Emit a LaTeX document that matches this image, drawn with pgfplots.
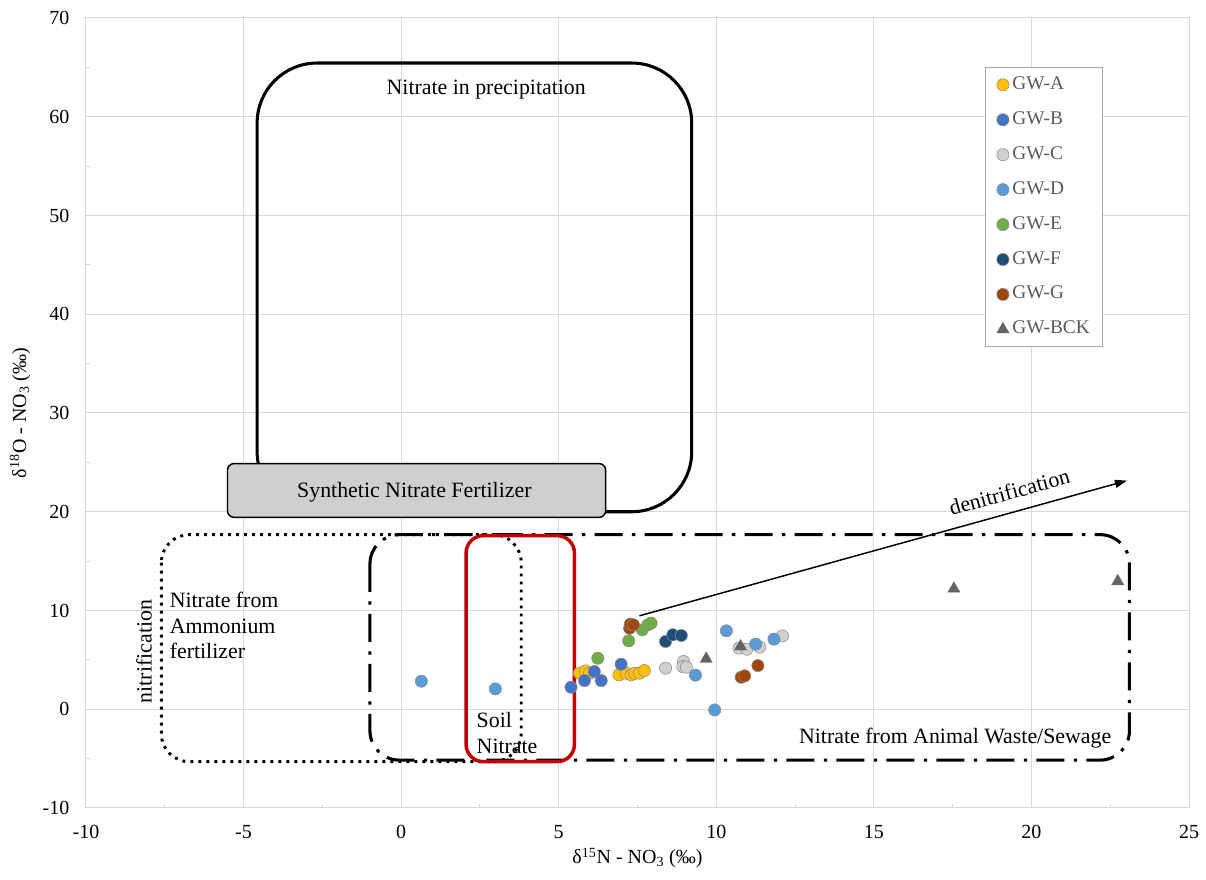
\documentclass[border=0pt]{standalone}
\usepackage{fontspec}
\setmainfont{Liberation Serif}
\usepackage{pgfplots}
\pgfplotsset{compat=1.18}
\usetikzlibrary{calc,arrows.meta}
\definecolor{cA}{HTML}{FFC000}
\definecolor{cB}{HTML}{4472C4}
\definecolor{cC}{HTML}{D0D0D0}
\definecolor{cD}{HTML}{5B9BD5}
\definecolor{cE}{HTML}{70AD47}
\definecolor{cF}{HTML}{1F4E79}
\definecolor{cG}{HTML}{9E480E}
\definecolor{cK}{HTML}{636363}
\definecolor{gridc}{HTML}{D9D9D9}
\definecolor{redbox}{HTML}{C00000}
\definecolor{legtext}{HTML}{595959}
\definecolor{edgec}{HTML}{8C8C8C}
\begin{document}
\begin{tikzpicture}
\begin{axis}[
  scale only axis, width=827.25pt, height=592.5pt,
  xmin=-10, xmax=25, ymin=-10, ymax=70,
  xtick={-10,-5,...,25}, ytick={-10,0,...,70},
  minor x tick num=1, minor y tick num=1,
  grid=major, major grid style={gridc, line width=0.75pt},
  axis line style={gridc, line width=0.75pt},
  tick align=inside, major tick length=0pt, minor tick length=3pt,
  minor tick style={gridc, line width=0.75pt},
  tick pos=left,
  /pgf/number format/assume math mode=true,
  ticklabel style={font=\fontsize{15}{18}\selectfont},
  xticklabel style={yshift=-9.6pt},
  yticklabel style={xshift=-9pt},
  xlabel={δ\textsuperscript{15}N - NO\textsubscript{3} (‰)},
  ylabel={δ\textsuperscript{18}O - NO\textsubscript{3} (‰)},
  label style={font=\fontsize{15}{18}\selectfont},
  xlabel style={at={(axis description cs:0.5,-0.0633)}, anchor=center},
  ylabel style={at={(axis description cs:-0.0598,0.5)}, anchor=center},
  only marks,
  legend image code/.code={\draw[#1] plot coordinates {(0pt,0pt)};},
  legend cell align=left,
  legend style={at={(0.815,0.938)}, anchor=north west, draw=gray!70, line width=0.6pt,
    font=\fontsize{14.5}{17}\selectfont, text=legtext,
    inner xsep=8.5pt, inner ysep=5.5pt, row sep=11pt,
    nodes={inner sep=1pt, text height=10pt, text depth=3.2pt},
    /tikz/every even column/.append style={column sep=0pt},
    /tikz/every odd column/.append style={column sep=1.5pt}},
]
\addplot[mark=*, mark size=4.6pt, mark options={fill=cA, draw=edgec, line width=0.4pt}] coordinates {
(5.66,3.65) (5.85,3.88) (5.98,3.65) (6.91,3.48) (7.14,3.65) (7.30,3.48) (7.40,3.65) (7.56,3.65) (7.72,3.92)};
\addlegendentry{GW-A}
\addplot[mark=*, mark size=4.6pt, mark options={fill=cB, draw=edgec, line width=0.4pt}] coordinates {
(5.39,2.23) (5.82,2.90) (6.13,3.82) (6.35,2.90) (6.98,4.56)};
\addlegendentry{GW-B}
\addplot[mark=*, mark size=4.6pt, mark options={fill=cC, draw=edgec, line width=0.4pt}] coordinates {
(8.39,4.16) (8.96,4.83) (8.94,4.32) (9.05,4.26) (10.72,6.19) (10.97,6.08) (11.38,6.29) (12.10,7.43)};
\addlegendentry{GW-C}
\addplot[mark=*, mark size=4.6pt, mark options={fill=cD, draw=edgec, line width=0.4pt}] coordinates {
(0.64,2.84) (2.99,2.06) (9.34,3.45) (9.95,-0.07) (10.32,7.94) (11.25,6.59) (11.83,7.10)};
\addlegendentry{GW-D}
\addplot[mark=*, mark size=4.6pt, mark options={fill=cE, draw=edgec, line width=0.4pt}] coordinates {
(6.24,5.17) (7.22,6.93) (7.65,8.04) (7.83,8.55) (7.93,8.72)};
\addlegendentry{GW-E}
\addplot[mark=*, mark size=4.6pt, mark options={fill=cF, draw=edgec, line width=0.4pt}] coordinates {
(8.39,6.86) (8.62,7.54) (8.89,7.47)};
\addlegendentry{GW-F}
\addplot[mark=*, mark size=4.6pt, mark options={fill=cG, draw=edgec, line width=0.4pt}] coordinates {
(7.25,8.20) (7.27,8.62) (7.37,8.55) (10.79,3.24) (10.90,3.38) (11.32,4.42)};
\addlegendentry{GW-G}
\addplot[mark=triangle*, mark size=5.4pt, mark options={fill=cK, draw=cK, line width=0.1pt}] coordinates {
(9.68,5.10) (10.77,6.35) (17.54,12.20) (22.74,12.95)};
\addlegendentry{GW-BCK}
% annotation shapes
\draw[black, line width=2.3pt, rounded corners=45pt] (axis cs:-4.57,65.44) rectangle (axis cs:9.22,20.0);
\node[font=\fontsize{16.4}{19}\selectfont, inner sep=0pt] at (axis cs:2.70,62.8) {Nitrate in precipitation};
\draw[black, line width=1.1pt, fill=gray!38, rounded corners=5pt] (axis cs:-5.51,24.88) rectangle (axis cs:6.49,19.43);
\node[font=\fontsize{16.4}{19}\selectfont, inner sep=0pt] at (axis cs:0.42,22.0) {Synthetic Nitrate Fertilizer};
\draw[black, line width=2.2pt, dash pattern=on 2.2pt off 3.8pt, rounded corners=21pt] (axis cs:-7.61,17.68) rectangle (axis cs:3.81,-5.31);
\draw[black, line width=2.3pt, dash pattern=on 21pt off 7pt on 2.5pt off 7pt, rounded corners=22pt] (axis cs:-0.99,17.68) rectangle (axis cs:23.11,-5.15);
\draw[redbox, line width=2.6pt, rounded corners=13pt] (axis cs:2.06,17.58) rectangle (axis cs:5.50,-5.31);
\node[font=\fontsize{16.4}{19}\selectfont, inner sep=0pt, align=left, anchor=west] at (axis cs:-7.35,8.48) {Nitrate from\\Ammonium\\fertilizer};
\node[font=\fontsize{16.4}{19}\selectfont, inner sep=0pt, rotate=90] at (axis cs:-8.16,5.84) {nitrification};
\node[font=\fontsize{16.4}{19.5}\selectfont, inner sep=0pt, align=left, anchor=west] at (axis cs:2.39,-2.4) {Soil\\Nitrate};
\node[font=\fontsize{16.4}{19}\selectfont, inner sep=0pt] at (axis cs:17.58,-2.9) {Nitrate from Animal Waste/Sewage};
\draw[black, line width=1.1pt, -{Triangle[length=9pt,width=6pt]}] (axis cs:7.56,9.46) -- (axis cs:23.03,23.15);
\node[font=\fontsize{16.4}{19}\selectfont, inner sep=0pt, rotate=15.5] at (axis cs:19.30,22.0) {denitrification};
\end{axis}
\pgfresetboundingbox
\path ($(current axis.south west)+(-64.5pt,-54pt)$) rectangle ($(current axis.north east)+(12.75pt,13.5pt)$);
\end{tikzpicture}
\end{document}
